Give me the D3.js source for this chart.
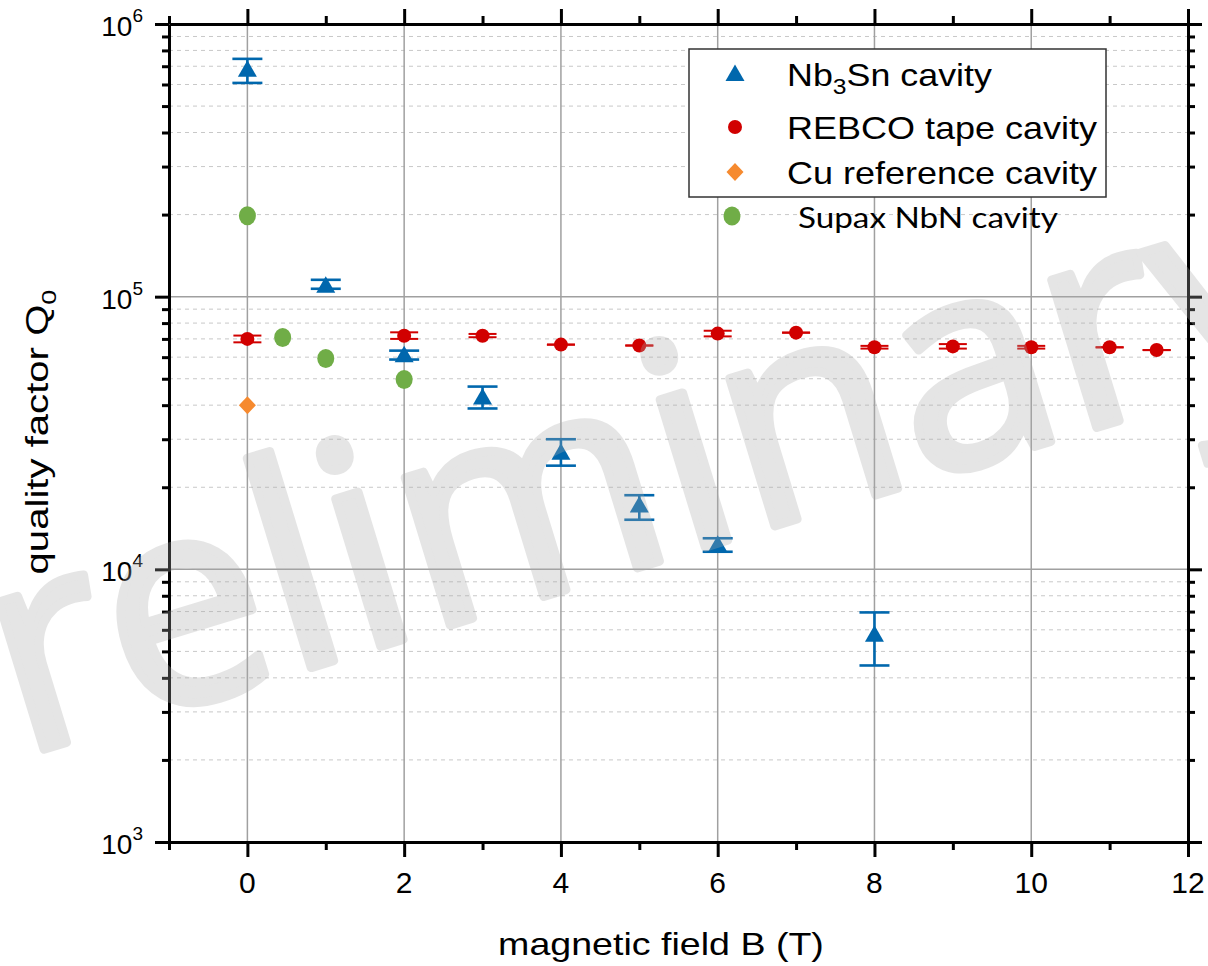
<!DOCTYPE html>
<html><head><meta charset="utf-8">
<script src="https://cdn.jsdelivr.net/npm/d3@7"></script>
<style>body{margin:0;background:#fff} svg{display:block}</style>
</head><body><svg id="c" width="1208" height="966"></svg>
<script>
// ---------------- data ----------------
const nb3snB  = [0, 1, 2, 3, 4, 5, 6, 8];
const nb3snQ  = [6.85e5, 1.107e5, 6.15e4, 4.3e4, 2.7e4, 1.73e4, 1.24e4, 5.8e3];
const nb3snHi = [7.45e5, 1.153e5, 6.34e4, 4.68e4, 3.0e4, 1.87e4, 1.30e4, 6.95e3];
const nb3snLo = [6.08e5, 1.069e5, 5.88e4, 3.89e4, 2.4e4, 1.52e4, 1.16e4, 4.44e3];

const rebcoB  = [0, 2, 3, 4, 5, 6, 7, 8, 9, 10, 11, 11.6];
const rebcoQ  = [7.0e4, 7.19e4, 7.19e4, 6.67e4, 6.62e4, 7.32e4, 7.38e4, 6.52e4, 6.57e4, 6.52e4, 6.52e4, 6.37e4];
const rebcoHi = [7.2e4, 7.4e4, 7.3e4, 6.67e4, 6.62e4, 7.5e4, 7.38e4, 6.6e4, 6.7e4, 6.6e4, 6.52e4, 6.37e4];
const rebcoLo = [6.8e4, 7.0e4, 7.1e4, 6.67e4, 6.62e4, 7.15e4, 7.38e4, 6.45e4, 6.45e4, 6.45e4, 6.52e4, 6.37e4];

const cuB = [0];
const cuQ = [4.0e4];

const supaxB = [0, 0.45, 1, 2];
const supaxQ = [1.98e5, 7.08e4, 5.93e4, 4.97e4];

const xTickValues = [0, 2, 4, 6, 8, 10, 12];
const xTickLabels = ["0", "2", "4", "6", "8", "10", "12"];
const yTickValues = [1e3, 1e4, 1e5, 1e6];
const yTickExps   = ["3", "4", "5", "6"];

const seriesNames = ["Nb", "REBCO tape cavity", "Cu reference cavity", "Supax NbN cavity"];

// ---------------- setup ----------------
const svg = d3.select('#c');
const m = {l: 169, t: 24, r: 1188, b: 842};
const x = d3.scaleLinear().domain([-1, 12]).range([m.l, m.r]);
const y = d3.scaleLog().domain([1e3, 1e6]).range([m.b, m.t]);

const BLUE = '#0067ad', RED = '#d10000', ORANGE = '#f68a2f', GREEN = '#70ad47';
const FONT = '"Liberation Sans", Arial, sans-serif';

// grid
const minorY = [];
for (let e = 3; e < 6; e++) for (let k = 2; k <= 9; k++) minorY.push(k * Math.pow(10, e));
const grid = svg.append('g');
grid.selectAll('.mn').data(minorY).join('line')
  .attr('x1', m.l).attr('x2', m.r)
  .attr('y1', d => y(d)).attr('y2', d => y(d))
  .attr('stroke', '#c8c8c8').attr('stroke-width', 1).attr('stroke-dasharray', '4,4');
grid.selectAll('.mj').data([1e4, 1e5]).join('line')
  .attr('x1', m.l).attr('x2', m.r)
  .attr('y1', d => y(d)).attr('y2', d => y(d))
  .attr('stroke', '#a0a0a0').attr('stroke-width', 1.5);
grid.selectAll('.vx').data(xTickValues.filter(v => v > -1 && v < 12)).join('line')
  .attr('x1', d => x(d)).attr('x2', d => x(d))
  .attr('y1', m.t).attr('y2', m.b)
  .attr('stroke', '#a0a0a0').attr('stroke-width', 1.5);

// axes
const allX = d3.range(-1, 13);
const allY = yTickValues.concat(minorY).sort((a, b) => a - b);
const isMajX = v => xTickValues.includes(v);
const isMajY = v => yTickValues.includes(v);

function styleAxis(g, isMaj, majLen, minLen, attr, sign) {
  g.select('.domain').attr('stroke', '#000').attr('stroke-width', 3);
  g.selectAll('.tick line').attr('stroke', '#000').attr('stroke-width', 3)
    .attr(attr, d => sign * (isMaj(d) ? majLen : minLen));
  g.selectAll('.tick text').remove();
}
const gB = svg.append('g').attr('transform', `translate(0,${m.b})`)
  .call(d3.axisBottom(x).tickValues(allX).tickSizeOuter(0));
styleAxis(gB, isMajX, 15, 8, 'y2', 1);
const gT = svg.append('g').attr('transform', `translate(0,${m.t})`)
  .call(d3.axisTop(x).tickValues(allX).tickSizeOuter(0));
styleAxis(gT, isMajX, 15, 8, 'y2', -1);
const gL = svg.append('g').attr('transform', `translate(${m.l},0)`)
  .call(d3.axisLeft(y).tickValues(allY).tickSizeOuter(0));
styleAxis(gL, isMajY, 14, 7, 'x2', -1);
const gR = svg.append('g').attr('transform', `translate(${m.r},0)`)
  .call(d3.axisRight(y).tickValues(allY).tickSizeOuter(0));
styleAxis(gR, isMajY, 14, 7, 'x2', 1);

// x tick labels
svg.append('g').selectAll('text').data(xTickValues).join('text')
  .attr('x', d => x(d)).attr('y', m.b + 51)
  .attr('text-anchor', 'middle').attr('font-family', FONT).attr('font-size', 30)
  .text((d, i) => xTickLabels[i]);

// y tick labels
yTickValues.forEach((v, i) => {
  const t = svg.append('text').attr('x', 143).attr('y', y(v) + 12)
    .attr('text-anchor', 'end').attr('font-family', FONT).attr('font-size', 28);
  t.append('tspan').text('10');
  t.append('tspan').attr('font-size', 19).attr('dy', -14).text(yTickExps[i]);
});

// x title
{
  const g = svg.append('g');
  const t = g.append('text').attr('font-family', FONT).attr('font-size', 31)
    .attr('text-anchor', 'middle').text('magnetic field B (T)');
  const w = t.node().getComputedTextLength();
  g.attr('transform', `translate(661,955) scale(${326 / w},1)`);
}
// y title
{
  const g = svg.append('g');
  const t = g.append('text').attr('font-family', FONT).attr('font-size', 31)
    .attr('text-anchor', 'middle');
  t.append('tspan').text('quality factor Q');
  t.append('tspan').attr('font-size', 21).attr('dy', 8).text('0');
  const w = t.node().getComputedTextLength();
  g.attr('transform', `translate(48,432) rotate(-90) scale(${285 / w},1)`);
}

// markers
const tri = 'M0,-8.5L9.5,8L-9.5,8Z';
const plot = svg.append('g');

// Supax NbN
plot.selectAll('.sx').data(supaxB).join('ellipse')
  .attr('cx', d => x(d)).attr('cy', (d, i) => y(supaxQ[i]))
  .attr('rx', 8.5).attr('ry', 9.5).attr('fill', GREEN);

// REBCO error bars + points
rebcoB.forEach((b, i) => {
  const g = plot.append('g').attr('stroke', RED).attr('stroke-width', 2);
  g.append('line').attr('x1', x(b)).attr('x2', x(b)).attr('y1', y(rebcoHi[i])).attr('y2', y(rebcoLo[i]));
  [rebcoHi[i], rebcoLo[i]].forEach(v => g.append('line')
    .attr('x1', x(b) - 14).attr('x2', x(b) + 14).attr('y1', y(v)).attr('y2', y(v)));
});
plot.selectAll('.rb').data(rebcoB).join('circle')
  .attr('cx', d => x(d)).attr('cy', (d, i) => y(rebcoQ[i])).attr('r', 7).attr('fill', RED);

// Cu
plot.selectAll('.cu').data(cuB).join('path')
  .attr('d', 'M0,-9L8.5,0L0,9L-8.5,0Z')
  .attr('transform', (d, i) => `translate(${x(d)},${y(cuQ[i])})`).attr('fill', ORANGE);

// Nb3Sn
nb3snB.forEach((b, i) => {
  const g = plot.append('g').attr('stroke', BLUE).attr('stroke-width', 2.6);
  g.append('line').attr('x1', x(b)).attr('x2', x(b)).attr('y1', y(nb3snHi[i])).attr('y2', y(nb3snLo[i]));
  [nb3snHi[i], nb3snLo[i]].forEach(v => g.append('line')
    .attr('x1', x(b) - 15).attr('x2', x(b) + 15).attr('y1', y(v)).attr('y2', y(v)));
});
plot.selectAll('.nb').data(nb3snB).join('path')
  .attr('d', tri)
  .attr('transform', (d, i) => `translate(${x(d)},${y(nb3snQ[i])})`).attr('fill', BLUE);

// legend
const lg = svg.append('g');
lg.append('rect').attr('x', 689).attr('y', 49).attr('width', 417).attr('height', 148)
  .attr('fill', '#fff').attr('stroke', '#333').attr('stroke-width', 1.5);
lg.append('path').attr('d', tri).attr('transform', 'translate(735,73)').attr('fill', BLUE);
lg.append('circle').attr('cx', 735).attr('cy', 127).attr('r', 7).attr('fill', RED);
lg.append('path').attr('d', 'M0,-9L8.5,0L0,9L-8.5,0Z').attr('transform', 'translate(735,172)').attr('fill', ORANGE);
lg.append('ellipse').attr('cx', 732).attr('cy', 216).attr('rx', 8.5).attr('ry', 9.5).attr('fill', GREEN);

function legendText(x0, y0, target, build, family, size) {
  const g = lg.append('g');
  const t = g.append('text').attr('font-family', family).attr('font-size', size);
  build(t);
  const w = t.node().getComputedTextLength();
  g.attr('transform', `translate(${x0},${y0}) scale(${target / w},1)`);
}
legendText(787, 86, 205, t => {
  t.append('tspan').text(seriesNames[0]);
  t.append('tspan').attr('font-size', 22).attr('dy', 8).text('3');
  t.append('tspan').attr('dy', -8).text('Sn cavity');
}, FONT, 32);
legendText(787, 139, 310, t => t.text(seriesNames[1]), FONT, 32);
legendText(787, 184, 310, t => t.text(seriesNames[2]), FONT, 32);
legendText(798, 228, 260, t => t.text(seriesNames[3]), 'Lato, "Open Sans", sans-serif', 29);

// watermark (semi-transparent, on top)
svg.append('g').attr('opacity', 0.3)
  .attr('transform', 'translate(-148,808) rotate(-17)')
  .append('text').text('preliminary')
  .attr('font-family', '"Open Sans", sans-serif').attr('font-size', 288)
  .attr('fill', 'rgb(170,170,170)')
  .attr('stroke', 'rgb(170,170,170)').attr('stroke-width', 9).attr('stroke-linejoin', 'round');
</script></body></html>
